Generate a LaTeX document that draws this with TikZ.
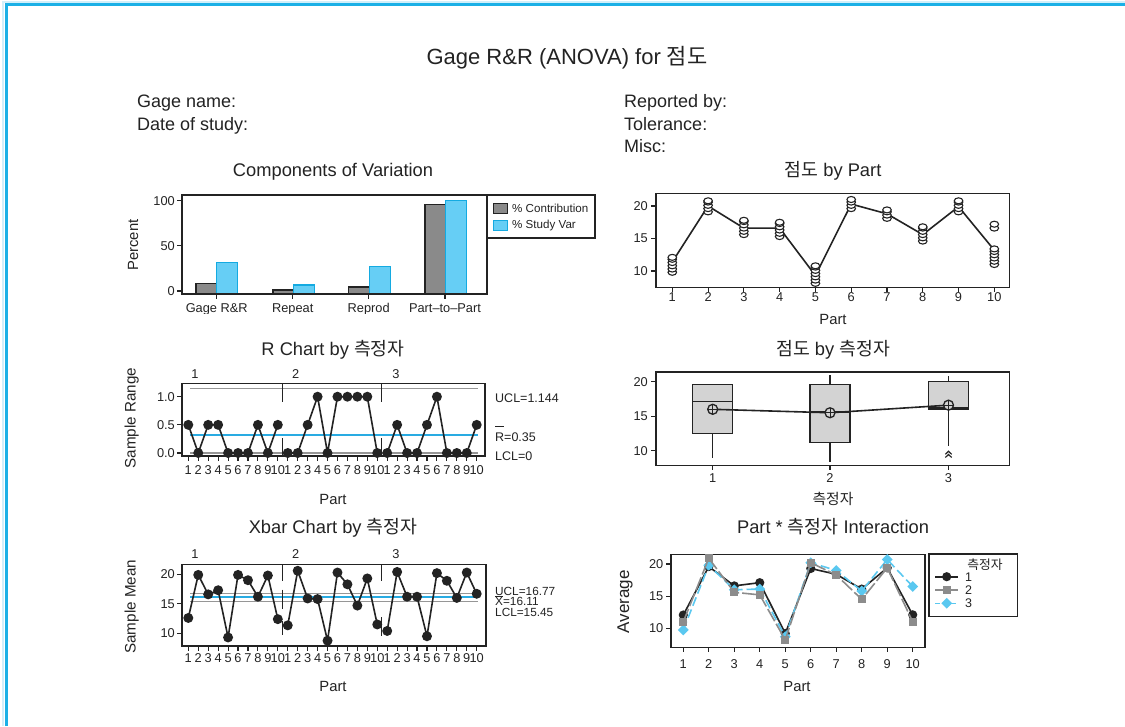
\documentclass[tikz,border=0pt]{standalone}
\usepackage{fontspec}
\setmainfont{Liberation Sans}
\newfontfamily\kr{Noto Sans CJK KR}

\definecolor{frameblue}{RGB}{27,176,230}
\definecolor{barcyan}{RGB}{102,206,245}
\definecolor{barcyanedge}{RGB}{20,170,225}
\definecolor{bargray}{RGB}{138,138,138}
\definecolor{linecyan}{RGB}{41,171,226}
\definecolor{ink}{RGB}{35,35,35}
\definecolor{ctlgray}{RGB}{150,150,150}
\definecolor{boxfill}{RGB}{211,211,211}
\definecolor{optwo}{RGB}{140,140,140}
\definecolor{opthree}{RGB}{90,200,240}

% polyline through a series: style, x function, y function, index offset, values
\newcommand{\polyline}[5]{%
  \draw[#1] \foreach \v [count=\k] in {#5} {%
    \ifnum\k=1 ({#2(\k+#4)},{#3(\v)}) \else -- ({#2(\k+#4)},{#3(\v)}) \fi}; }
% filled dots of a series
\newcommand{\seriesdots}[5]{%
  \foreach \v [count=\k] in {#5} \fill[#1] ({#2(\k+#4)},{#3(\v)}) circle[radius=5pt]; }

\begin{document}
\begin{tikzpicture}[x=1pt,y=-1pt,
  declare function={
    pbx(\i)=672.3+(\i-1)*35.78; pby(\v)=271-(\v-10)*6.5;
    rcx(\i)=188.3+(\i-1)*9.945; rcy(\v)=453-\v*56.3;
    xby(\v)=633.3-(\v-10)*5.9;
    opy(\v)=450.7-(\v-10)*6.9;
    inx(\i)=683.3+(\i-1)*25.49; iny(\v)=628.3-(\v-10)*6.43;
    cvy(\v)=291-\v*0.903;
  },
  frame/.style={draw=ink, line width=1.6pt},
  tickmark/.style={draw=ink, line width=1.1pt},
  ticklab/.style={font=\fontsize{12.8}{13}\selectfont, text=ink, inner sep=0pt},
  smalllab/.style={font=\fontsize{12.5}{13}\selectfont, text=ink, inner sep=0pt, anchor=west},
  axislab/.style={font=\fontsize{14.8}{16}\selectfont, text=ink, inner sep=0pt},
  paneltitle/.style={font=\fontsize{18.3}{20}\selectfont, text=ink, inner sep=0pt, anchor=base},
  headtext/.style={font=\fontsize{18}{20}\selectfont, text=ink, inner sep=0pt, anchor=base west},
  series/.style={draw=ink, line width=1.6pt, line join=round},
  ctl/.style={draw=ctlgray, line width=1.3pt},
  ctlmid/.style={draw=linecyan, line width=2pt},
  sepline/.style={draw=ink, line width=1.4pt},
  boxline/.style={draw=ink, line width=1.4pt},
]
\useasboundingbox (0,0) rectangle (1125,726);
\fill[white] (0,0) rectangle (1125,726);

% page border
\draw[frameblue!20, line width=2pt] (3,726) -- (3,1.5) -- (1125,1.5);
\draw[frameblue, line width=3.3pt] (6.5,726) -- (6.5,4.5) -- (1125,4.5);

% header
\node[paneltitle, font=\fontsize{22}{24}\selectfont] (maintitle) at (567,64.5) {Gage R\&R (ANOVA) for {\kr 점도}};
\node[headtext] (gname) at (137,107.5) {Gage name:};
\node[headtext] (gdate) at (137,130.5) {Date of study:};
\node[headtext] (repby) at (624,107.5) {Reported by:};
\node[headtext] (toler) at (624,130.5) {Tolerance:};
\node[headtext] (misc)  at (624,152.5) {Misc:};

% ---------------- Components of Variation
\node[paneltitle] (cvtitle) at (333,176.4) {Components of Variation};
\foreach \xl/\g/\c in {196/8/31.3, 273/1.1/6.6, 348.7/4.4/27, 425/96/100}{
  \draw[fill=bargray, draw=ink, line width=1.2pt] (\xl,293.5) rectangle ({\xl+20.7},{cvy(\g)});
  \draw[fill=barcyan, draw=barcyanedge, line width=1.2pt] ({\xl+20.7},293.5) rectangle ({\xl+41.7},{cvy(\c)});
}
\draw[frame] (181.7,195) rectangle (486.7,294);
\foreach \v in {0,50,100}{
  \draw[tickmark] (177,{cvy(\v)}) -- (181.7,{cvy(\v)});
  \node[ticklab, anchor=east] (cvy\v) at (175,{cvy(\v)}) {\v};
}
\begin{scope}
  \clip (150,294) rectangle (520,313.5);
  \foreach \x/\t [count=\n] in {216.7/Gage R\&R, 292.7/Repeat, 368.7/Reprod, 445/Part--to--Part}{
    \draw[tickmark] (\x,294) -- (\x,299);
    \node[ticklab, anchor=base] (cvx\n) at (\x,312) {\t};
  }
\end{scope}
\node[axislab, rotate=90] (cvylab) at (133,245) {Percent};
\draw[draw=ink, line width=1.4pt] (487.7,195) rectangle (595,238);
\draw[fill=bargray, draw=ink, line width=1pt] (493,203) rectangle (507,213);
\draw[fill=barcyan, draw=barcyanedge, line width=1pt] (493,220) rectangle (507,230);
\node[smalllab, font=\fontsize{11.6}{12}\selectfont] (legc) at (512,208) {\% Contribution};
\node[smalllab, font=\fontsize{11.6}{12}\selectfont] (legs) at (512,225) {\% Study Var};

% ---------------- by Part
\node[paneltitle] (pbtitle) at (833,176.4) {{\kr 점도} by Part};
\draw[frame] (655.7,193.3) rectangle (1009.3,287.3);
\foreach \v in {10,15,20}{
  \draw[tickmark] (651,{pby(\v)}) -- (655.7,{pby(\v)});
  \node[ticklab, anchor=east] (pby\v) at (648,{pby(\v)}) {\v};
}
\foreach \p in {1,...,10}{
  \draw[tickmark] ({pbx(\p)},287.3) -- ({pbx(\p)},292);
  \node[ticklab] (pbx\p) at ({pbx(\p)},297) {\p};
}
\node[axislab] (pbxlab) at (833,319) {Part};
\polyline{series}{pbx}{pby}{0}{11.4,20.0,16.6,16.6,9.3,20.3,18.8,15.6,19.9,13.2}
\foreach \p/\vals in {1/{9.8,10.3,10.8,11.3,11.8,12.1}, 2/{19.1,19.6,20.1,20.6,20.8},
    3/{15.6,16.1,16.6,17.1,17.6,17.8}, 4/{15.3,15.8,16.3,16.8,17.3,17.5},
    5/{8.1,8.6,9.1,9.6,10.1,10.6,10.8}, 6/{19.6,20.1,20.6,21.0}, 7/{18.1,18.6,19.1,19.4},
    8/{14.6,15.1,15.6,16.1,16.6,16.8}, 9/{19.1,19.6,20.1,20.6,20.8},
    10/{11.0,11.5,12.0,12.5,13.0,13.4,16.6,17.2}}{
  \foreach \v in \vals
    \draw[ink, fill=white, line width=1.1pt] ({pbx(\p)},{pby(\v)}) ellipse[x radius=4.3pt, y radius=3pt];
}

% ---------------- R chart
\node[paneltitle] (rtitle) at (333,355.5) {R Chart by {\kr 측정자}};
\draw[ctl] (190,{rcy(1.144)}) -- (478.3,{rcy(1.144)});
\draw[ctl] (190,453) -- (478.3,453);
\draw[ctlmid] (190,434.5) -- (478.3,434.5);
\foreach \x in {282.7,381.7}{
  \draw[sepline] (\x,383.3) -- (\x,401.7);
  \draw[sepline] (\x,438.3) -- (\x,456);
}
\polyline{series}{rcx}{rcy}{0}{0.5,0,0.5,0.5,0,0,0,0.5,0,0.5}
\polyline{series}{rcx}{rcy}{10}{0,0,0.5,1,0,1,1,1,1,0}
\polyline{series}{rcx}{rcy}{20}{0,0.5,0,0,0.5,1,0,0,0,0.5}
\seriesdots{ink}{rcx}{rcy}{0}{0.5,0,0.5,0.5,0,0,0,0.5,0,0.5}
\seriesdots{ink}{rcx}{rcy}{10}{0,0,0.5,1,0,1,1,1,1,0}
\seriesdots{ink}{rcx}{rcy}{20}{0,0.5,0,0,0.5,1,0,0,0,0.5}
\draw[frame] (181.7,383.3) rectangle (485,456);
\foreach \v/\t in {0/0.0,0.5/0.5,1/1.0}{
  \draw[tickmark] (177,{rcy(\v)}) -- (181.7,{rcy(\v)});
  \node[ticklab, anchor=east] at (175,{rcy(\v)}) {\t};
}
\foreach \o in {0,10,20}{
  \foreach \p in {1,...,10}{
    \draw[tickmark] ({rcx(\p+\o)},456) -- ({rcx(\p+\o)},461);
    \node[ticklab] at ({rcx(\p+\o)},470) {\p};
  }
}
\node[ticklab] (rop1) at (195,374) {1};
\node[ticklab] (rop2) at (295.7,374) {2};
\node[ticklab] (rop3) at (396,374) {3};
\node[smalllab] (rucl) at (495,398) {UCL=1.144};
\node[smalllab] (rbar) at (495,437.3) {R=0.35};
\draw[ink, line width=0.9pt] (495,426.5) -- (504,426.5);
\node[smalllab] (rlcl) at (495,455.7) {LCL=0};
\node[axislab, font=\fontsize{15.2}{16}\selectfont, rotate=90] (rylab) at (131.7,418) {Sample Range};
\node[axislab] (rxlab) at (333,499) {Part};

% ---------------- by operator
\node[paneltitle] (optitle) at (833,355.5) {{\kr 점도} by {\kr 측정자}};
\draw[frame] (655.7,371.7) rectangle (1009.3,465.3);
\foreach \v in {10,15,20}{
  \draw[tickmark] (651,{opy(\v)}) -- (655.7,{opy(\v)});
  \node[ticklab, anchor=east] at (648,{opy(\v)}) {\v};
}
% box 1
\draw[boxline] (712.7,{opy(12.46)}) -- (712.7,{opy(8.9)});
\draw[boxline, fill=boxfill] (692.7,{opy(12.46)}) rectangle (732.7,{opy(19.6)});
\draw[boxline] (692.7,{opy(17.1)}) -- (732.7,{opy(17.1)});
% box 2
\draw[boxline] (830,{opy(11.2)}) -- (830,{opy(8.4)});
\draw[boxline] (830,{opy(19.6)}) -- (830,{opy(21)});
\draw[boxline, fill=boxfill] (810,{opy(11.2)}) rectangle (850,{opy(19.6)});
\draw[boxline] (810,{opy(15.6)}) -- (850,{opy(15.6)});
% box 3
\draw[boxline] (948.5,{opy(16.05)}) -- (948.5,{opy(10.7)});
\draw[boxline] (948.5,{opy(20)}) -- (948.5,{opy(20.8)});
\draw[boxline, fill=boxfill] (928.5,{opy(16.05)}) rectangle (968.5,{opy(20)});
\draw[draw=ink, line width=2.2pt] (928.5,{opy(16.2)}) -- (968.5,{opy(16.2)});
\draw[ink, line width=1.2pt] (945.3,454.3) -- (948.5,451.3) -- (951.7,454.3);
\draw[ink, line width=1.2pt] (945.3,457.5) -- (948.5,454.5) -- (951.7,457.5);
% means
\draw[series] (712.7,{opy(16.0)}) -- (830,{opy(15.5)}) -- (948.5,{opy(16.6)});
\foreach \x/\m in {712.7/16.0, 830/15.5, 948.5/16.6}{
  \draw[ink, fill=boxfill, line width=1.3pt] (\x,{opy(\m)}) circle[radius=5pt];
  \draw[ink, line width=1pt] ({\x-5},{opy(\m)}) -- ({\x+5},{opy(\m)});
  \draw[ink, line width=1pt] (\x,{opy(\m)-5}) -- (\x,{opy(\m)+5});
}
\foreach \x [count=\n] in {712.7,830,948.5}{
  \draw[tickmark] (\x,465.3) -- (\x,470);
  \node[ticklab] (opx\n) at (\x,478.3) {\n};
}
\node[axislab] (opxlab) at (833,499) {\kr 측정자};

% ---------------- Xbar chart
\node[paneltitle] (xtitle) at (333,533.5) {Xbar Chart by {\kr 측정자}};
\draw[ctl] (190,{xby(16.77)}) -- (478.3,{xby(16.77)});
\draw[ctl] (190,{xby(15.45)}) -- (478.3,{xby(15.45)});
\draw[ctlmid] (190,{xby(16.11)}) -- (478.3,{xby(16.11)});
\draw[sepline] (282.7,564.3) -- (282.7,581.3);
\draw[sepline] (282.7,589.7) -- (282.7,608.7);
\draw[sepline] (282.7,621.3) -- (282.7,634.7);
\draw[sepline] (381.7,564.3) -- (381.7,581.3);
\draw[sepline] (381.7,617) -- (381.7,636);
\polyline{series}{rcx}{xby}{0}{12.6,19.9,16.6,17.3,9.3,19.9,19.0,16.2,19.8,12.4}
\polyline{series}{rcx}{xby}{10}{11.35,20.6,15.9,15.8,8.75,20.3,18.3,14.7,19.3,11.5}
\polyline{series}{rcx}{xby}{20}{10.4,20.4,16.2,16.2,9.5,20.2,18.9,16.0,20.3,16.7}
\seriesdots{ink}{rcx}{xby}{0}{12.6,19.9,16.6,17.3,9.3,19.9,19.0,16.2,19.8,12.4}
\seriesdots{ink}{rcx}{xby}{10}{11.35,20.6,15.9,15.8,8.75,20.3,18.3,14.7,19.3,11.5}
\seriesdots{ink}{rcx}{xby}{20}{10.4,20.4,16.2,16.2,9.5,20.2,18.9,16.0,20.3,16.7}
\draw[frame] (181.7,564.3) rectangle (486,646);
\foreach \v in {10,15,20}{
  \draw[tickmark] (177,{xby(\v)}) -- (181.7,{xby(\v)});
  \node[ticklab, anchor=east] at (175,{xby(\v)}) {\v};
}
\foreach \o in {0,10,20}{
  \foreach \p in {1,...,10}{
    \draw[tickmark] ({rcx(\p+\o)},646) -- ({rcx(\p+\o)},651);
    \node[ticklab] at ({rcx(\p+\o)},658.3) {\p};
  }
}
\node[ticklab] (xop1) at (195,554) {1};
\node[ticklab] (xop2) at (295.7,554) {2};
\node[ticklab] (xop3) at (396,554) {3};
\node[smalllab, font=\fontsize{11.8}{12}\selectfont] (xucl) at (495,591.7) {UCL=16.77};
\node[smalllab, font=\fontsize{11.8}{12}\selectfont] (xbar) at (495,601.9) {X=16.11};
\draw[ink, line width=0.9pt] (495,596.3) -- (503,596.3);
\node[smalllab, font=\fontsize{11.8}{12}\selectfont] (xlcl) at (495,612.1) {LCL=15.45};
\node[axislab, font=\fontsize{15.2}{16}\selectfont, rotate=90] (xylab) at (131.7,606.7) {Sample Mean};
\node[axislab] (xxlab) at (333,686.7) {Part};

% ---------------- interaction
\node[paneltitle] (intitle) at (833,533.5) {Part * {\kr 측정자} Interaction};
\draw[frame] (671,554.3) rectangle (925,647.3);
\foreach \v in {10,15,20}{
  \draw[tickmark] (666.3,{iny(\v)}) -- (671,{iny(\v)});
  \node[ticklab, anchor=east] at (663.5,{iny(\v)}) {\v};
}
\foreach \p in {1,...,10}{
  \draw[tickmark] ({inx(\p)},647.3) -- ({inx(\p)},652);
  \node[ticklab] at ({inx(\p)},664) {\p};
}
% operator 1
\polyline{series}{inx}{iny}{0}{12.07,19.6,16.6,17.1,9.2,19.3,18.4,16.1,19.4,12.1}
\foreach \v [count=\k] in {12.07,19.6,16.6,17.1,9.2,19.3,18.4,16.1,19.4,12.1}
  \fill[ink] ({inx(\k)},{iny(\v)}) circle[radius=4.6pt];
% operator 3
\polyline{draw=opthree, line width=1.6pt, dash pattern=on 9pt off 4pt}{inx}{iny}{0}{9.75,19.8,16.0,16.1,8.7,20.2,19.0,15.8,20.7,16.5}
\foreach \v [count=\k] in {9.75,19.8,16.0,16.1,8.7,20.2,19.0,15.8,20.7,16.5}
  \fill[opthree] ({inx(\k)},{iny(\v)}) ++(0,-5.4) -- ++(5.4,5.4) -- ++(-5.4,5.4) -- ++(-5.4,-5.4) -- cycle;
% operator 2
\polyline{draw=optwo, line width=1.6pt, dash pattern=on 14pt off 3pt}{inx}{iny}{0}{11.0,20.9,15.6,15.2,8.2,20.2,18.3,14.5,19.4,11.0}
\foreach \v [count=\k] in {11.0,20.9,15.6,15.2,8.2,20.2,18.3,14.5,19.4,11.0}
  \fill[optwo] ({inx(\k)},{iny(\v)}) ++(-4,-4) rectangle ++(8,8);
\node[axislab, font=\fontsize{17}{18}\selectfont, rotate=90] (inylab) at (625,601.7) {Average};
\node[axislab] (inxlab) at (797,686.7) {Part};
% legend
\draw[draw=ink, line width=1.4pt] (929,554) rectangle (1017.7,616.7);
\node[ticklab] (legt) at (985,565) {\kr 측정자};
\draw[series] (935,576.7) -- (958,576.7);
\fill[ink] (946.7,576.7) circle[radius=4.6pt];
\node[smalllab] (leg1) at (965,576.7) {1};
\draw[draw=optwo, line width=1.6pt] (935,590) -- (958,590);
\fill[optwo] (942.7,586) rectangle (950.7,594);
\node[smalllab] (leg2) at (965,590) {2};
\draw[draw=opthree, line width=1.6pt, dash pattern=on 5pt off 3pt] (935,603.3) -- (958,603.3);
\fill[opthree] (946.7,597.9) -- (952.1,603.3) -- (946.7,608.7) -- (941.3,603.3) -- cycle;
\node[smalllab] (leg3) at (965,603.3) {3};
\end{tikzpicture}
\end{document}
